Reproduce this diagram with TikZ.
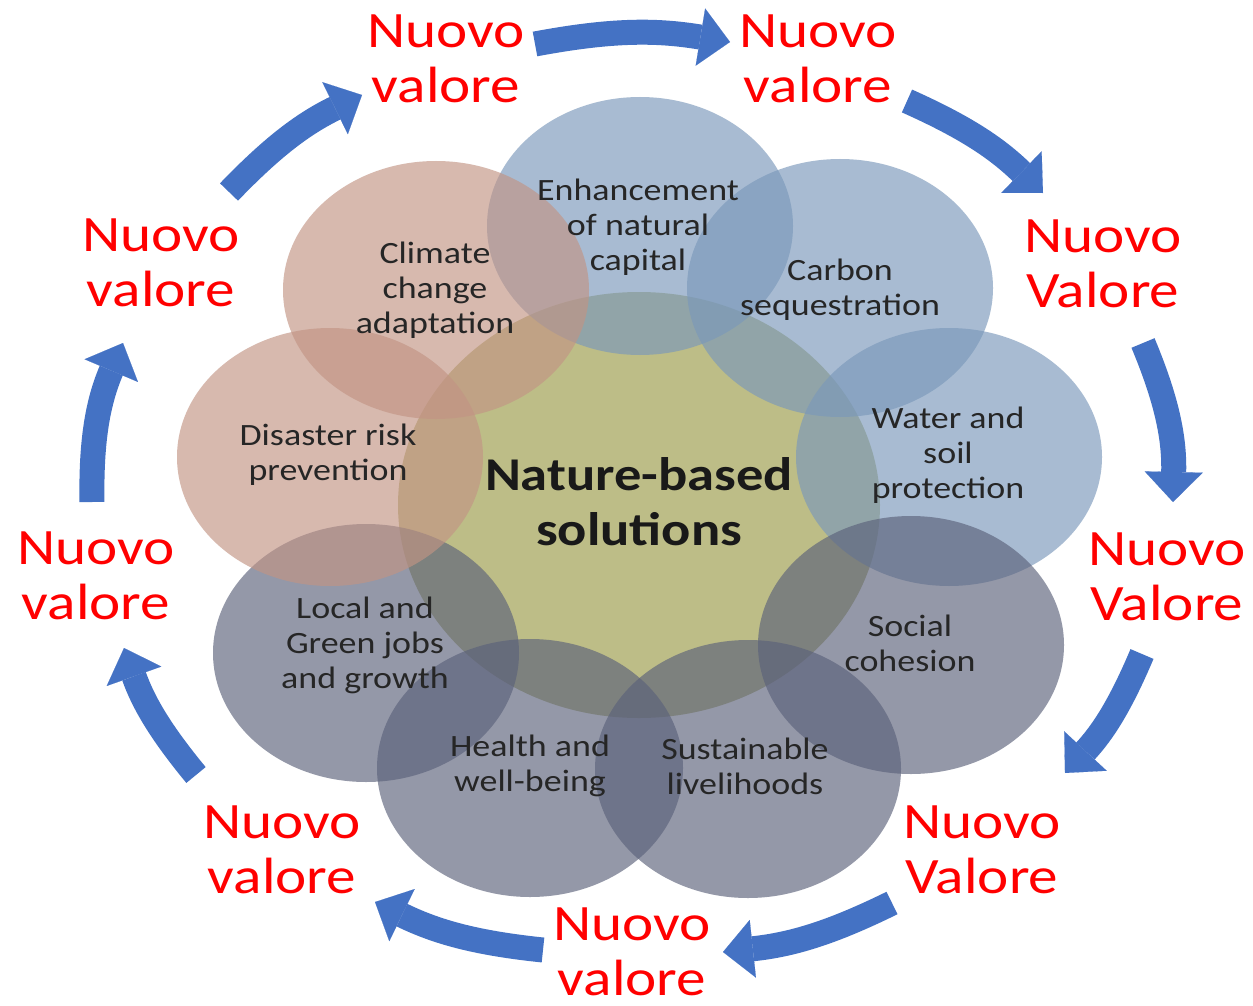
\documentclass[tikz,border=0pt]{standalone}
\usepackage{fontspec}
\setmainfont{Carlito}
\newfontfamily\wideCal[FakeStretch=1.16]{Carlito}
\usetikzlibrary{shapes.geometric,arrows.meta}

\definecolor{nbsblue}{RGB}{122,152,186}
\definecolor{nbsbrown}{RGB}{194,148,132}
\definecolor{nbsgray}{RGB}{91,97,122}
\definecolor{nbsolive}{RGB}{155,155,71}
\definecolor{arrowblue}{RGB}{68,114,196}

\begin{document}
\begin{tikzpicture}
  [x=1pt,y=-1pt,
   petal/.style={ellipse,minimum width=306pt,minimum height=258pt,inner sep=0pt,fill opacity=.65},
   petaltext/.style={align=center,text=black!85,font=\wideCal\fontsize{31}{35}\selectfont},
   valore/.style={align=center,text=red,font=\wideCal\fontsize{51}{55}\selectfont},
   roundarrow/.style={draw,color=arrowblue,line width=25pt,
     -{Triangle[length=30pt,width=58pt,line width=0.1pt,fill=arrowblue]}}]
  \useasboundingbox[fill=white] (0,0) rectangle (1253,1006);
  % circles
  \node[petal,fill=nbsolive,minimum width=482pt,minimum height=426pt] (nbs) at (639,505) {};
  \node[petal,fill=nbsblue] (enh) at (640,226) {};
  \node[petal,fill=nbsblue] (carb) at (840,288) {};
  \node[petal,fill=nbsblue] (water) at (949,457) {};
  \node[petal,fill=nbsgray] (soc) at (911,645) {};
  \node[petal,fill=nbsgray] (sust) at (748,769) {};
  \node[petal,fill=nbsgray] (health) at (530,768) {};
  \node[petal,fill=nbsgray] (local) at (366,653) {};
  \node[petal,fill=nbsbrown] (dis) at (330,457) {};
  \node[petal,fill=nbsbrown] (clim) at (436,290) {};
  % texts
  \node[align=center,text=black!90,font=\wideCal\bfseries\fontsize{47}{55}\selectfont] (nbstext) at (639,502) {Nature-based\\solutions};
  \node[petaltext] (enhtext) at (638,227) {Enhancement\\of natural\\capital};
  \node[petaltext] (carbtext) at (840,290) {Carbon\\sequestration};
  \node[petaltext] (watertext) at (948,455) {Water and\\soil\\protection};
  \node[petaltext] (soctext) at (910,643) {Social\\cohesion};
  \node[petaltext] (susttext) at (745,766) {Sustainable\\livelihoods};
  \node[petaltext] (healthtext) at (530,766) {Health and\\well-being};
  \node[petaltext] (localtext) at (365,645) {Local and\\Green jobs\\and growth};
  \node[petaltext] (distext) at (328,455) {Disaster risk\\prevention};
  \node[petaltext] (climtext) at (435,290) {Climate\\change\\adaptation};
  % new value labels
  \node[valore] (v1) at (446,59) {Nuovo\\valore};
  \node[valore] (v2) at (818,59) {Nuovo\\valore};
  \node[valore] (v3) at (1103,264) {Nuovo\\Valore};
  \node[valore] (v4) at (1167,577) {Nuovo\\Valore};
  \node[valore] (v5) at (982,850) {Nuovo\\Valore};
  \node[valore] (v6) at (632,952) {Nuovo\\valore};
  \node[valore] (v7) at (282,850) {Nuovo\\valore};
  \node[valore] (v8) at (96,576) {Nuovo\\valore};
  \node[valore] (v9) at (161,263) {Nuovo\\valore};
  % arrow ends
  \coordinate (s1) at (535,44);   \coordinate (e1) at (730,42);
  \coordinate (s2) at (907,101);  \coordinate (e2) at (1043,193);
  \coordinate (s3) at (1143,343); \coordinate (e3) at (1173,502);
  \coordinate (s4) at (1142,654); \coordinate (e4) at (1065,773);
  \coordinate (s5) at (892,903);  \coordinate (e5) at (723,952);
  \coordinate (s6) at (543,950);  \coordinate (e6) at (375,902);
  \coordinate (s7) at (196,775);  \coordinate (e7) at (124,648);
  \coordinate (s8) at (92,502);   \coordinate (e8) at (123,343);
  \coordinate (s9) at (229,192);  \coordinate (e9) at (362,95);
  \path [every edge/.style={roundarrow}]
   (s1) edge[bend left=10] (e1)
   (s2) edge[bend left=10] (e2)
   (s3) edge[bend left=12] (e3)
   (s4) edge[bend left=10] (e4)
   (s5) edge[bend left=10] (e5)
   (s6) edge[bend left=10] (e6)
   (s7) edge[bend left=10] (e7)
   (s8) edge[bend left=12] (e8)
   (s9) edge[bend left=10] (e9)
  ;
\end{tikzpicture}
\end{document}
